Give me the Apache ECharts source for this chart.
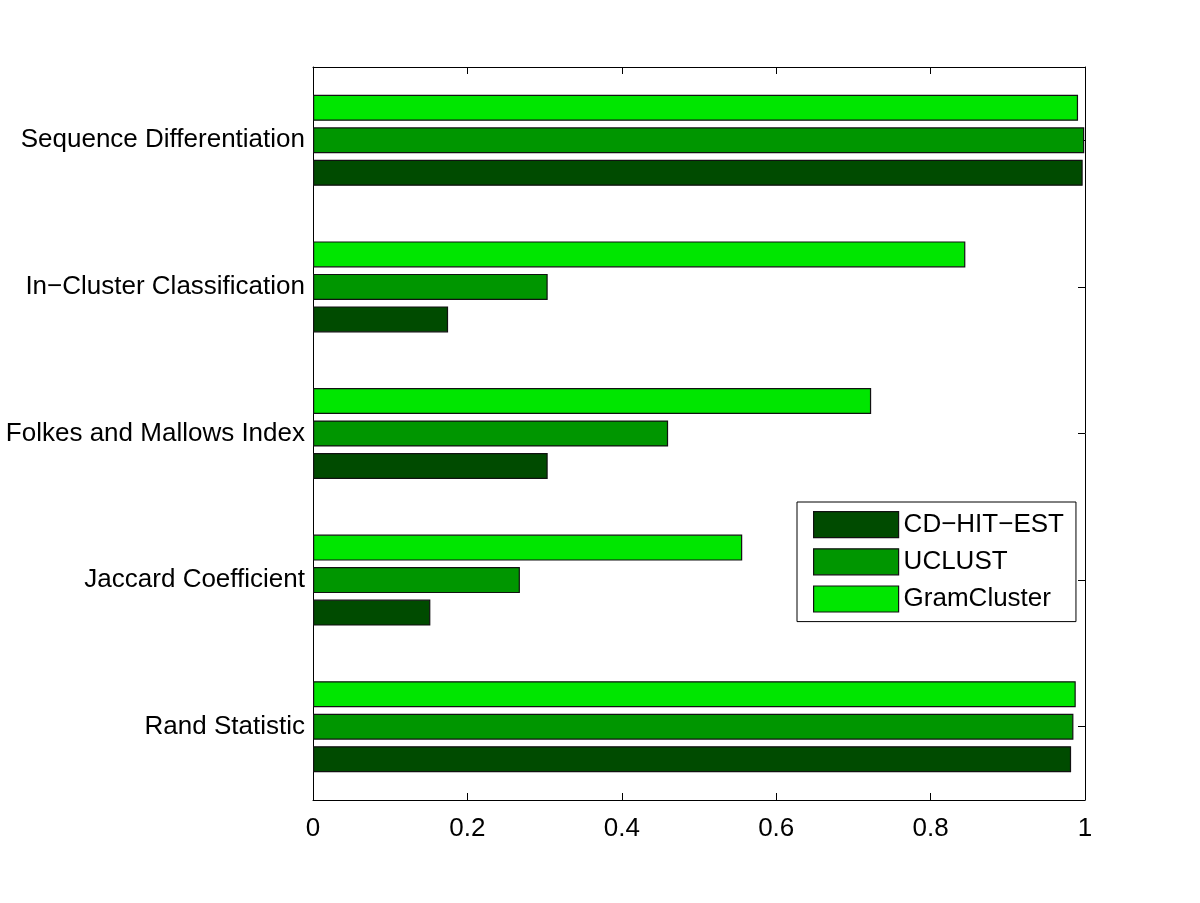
<!DOCTYPE html>
<html>
<head>
<meta charset="utf-8">
<script src="https://cdn.jsdelivr.net/npm/echarts@6/dist/echarts.min.js"></script>
<style>
  html, body { margin: 0; padding: 0; background: #fff; }
  #main { width: 1200px; height: 903px; }
</style>
</head>
<body>
<div id="main"></div>
<script>
// categories listed bottom to top
const categories = ['Rand Statistic', 'Jaccard Coefficient', 'Folkes and Mallows Index', 'In\u2212Cluster Classification', 'Sequence Differentiation'];
const seriesNames = ['CD\u2212HIT\u2212EST', 'UCLUST', 'GramCluster'];
const cdhit = [0.982, 0.152, 0.304, 0.175, 0.997];
const uclust = [0.985, 0.268, 0.460, 0.304, 0.999];
const gram = [0.988, 0.556, 0.723, 0.845, 0.991];
const xTicks = [0, 0.2, 0.4, 0.6, 0.8, 1];

const colors = ['#004b00', '#009600', '#00e600'];
const font = 'Liberation Sans, Arial, Helvetica, sans-serif';

const chart = echarts.init(document.getElementById('main'), null, { renderer: 'canvas' });

function barSeries(name, data, color) {
  return {
    name: name,
    type: 'bar',
    data: data,
    barWidth: 26,
    barGap: '25%',
    itemStyle: { color: color, borderColor: '#111', borderWidth: 1.2 }
  };
}

const axisLine = { show: true, onZero: false, lineStyle: { color: '#000', width: 1 } };
const tick = { show: true, inside: true, length: 7, lineStyle: { color: '#000' } };

const option = {
  animation: false,
  backgroundColor: '#fff',
  textStyle: { fontFamily: font },
  grid: { left: 313, right: 115, top: 67, bottom: 103, show: false },
  legend: {
    data: seriesNames,
    orient: 'vertical',
    left: 797,
    top: 502,
    icon: 'rect',
    itemWidth: 85,
    itemHeight: 26,
    itemGap: 10,
    padding: [9, 12, 9, 16],
    borderColor: '#000',
    borderWidth: 1,
    backgroundColor: '#fff',
    textStyle: { fontSize: 26, color: '#000', fontFamily: font },
    itemStyle: { borderColor: '#111', borderWidth: 1.2 }
  },
  xAxis: [{
    type: 'value',
    min: 0,
    max: 1,
    interval: 0.2,
    position: 'bottom',
    axisLine: axisLine,
    axisTick: tick,
    axisLabel: {
      fontSize: 26, color: '#000', margin: 16, fontFamily: font,
      formatter: function (v) { return xTicks.indexOf(v) >= 0 ? String(v) : ''; }
    },
    splitLine: { show: false }
  }, {
    type: 'value',
    min: 0,
    max: 1,
    interval: 0.2,
    position: 'top',
    axisLine: axisLine,
    axisTick: tick,
    axisLabel: { show: false },
    splitLine: { show: false }
  }],
  yAxis: [{
    type: 'category',
    data: categories,
    position: 'left',
    axisLine: axisLine,
    axisTick: Object.assign({ alignWithLabel: true }, tick),
    axisLabel: { fontSize: 26, color: '#000', margin: 8, fontFamily: font }
  }, {
    type: 'category',
    data: categories,
    position: 'right',
    axisLine: axisLine,
    axisTick: Object.assign({ alignWithLabel: true }, tick),
    axisLabel: { show: false }
  }],
  // drawn bottom-up within each category: GramCluster sits on top
  series: [
    barSeries(seriesNames[2], gram, colors[2]),
    barSeries(seriesNames[1], uclust, colors[1]),
    barSeries(seriesNames[0], cdhit, colors[0])
  ]
};

chart.setOption(option);
</script>
</body>
</html>
